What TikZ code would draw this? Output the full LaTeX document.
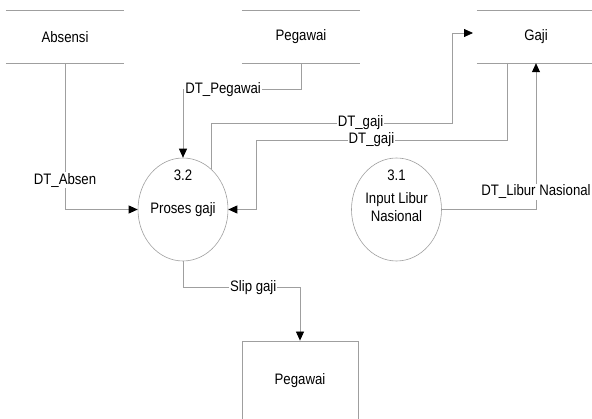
\documentclass[tikz,border=0pt]{standalone}
\usepackage{fontspec}
\usepackage{graphicx}
\setmainfont{Liberation Sans}
\usetikzlibrary{arrows.meta,shapes.geometric}

% labels in the reference are a little taller than wide
\newcommand{\dfd}[1]{\scalebox{1}[1.15]{#1}}

\begin{document}
\begin{tikzpicture}[%
      x=1pt, y=-1pt,
      every node/.style={font=\fontsize{13.2}{15.6}\selectfont, inner sep=1pt},
      store/.style={minimum width=118pt, minimum height=52pt},
      proc/.style={draw=gray!75, ellipse, line width=0.6pt,
                   minimum width=90pt, minimum height=103pt},
      entity/.style={draw=gray!75, line width=0.8pt,
                     minimum width=116pt, minimum height=80pt},
      flow/.style={draw=gray!75, line width=0.8pt,
                   -{Triangle[length=9pt,width=8pt,black]}},
      lbl/.style={fill=white},
      ]
      \useasboundingbox (0,0) rectangle (592,419);

      % data stores
      \node [store] (absensi) at (65,37) {\dfd{Absensi}};
      \node [store] (pegawai) at (301,37) {\dfd{Pegawai}};
      \node [store] (gaji) at (536,37) {\dfd{Gaji}};
      \foreach \s in {absensi,pegawai,gaji} {
        \draw [gray!75, line width=0.8pt] (\s.north west) -- (\s.north east);
        \draw [gray!75, line width=0.8pt] (\s.south west) -- (\s.south east);
      }

      % processes
      \node [proc] (proc32) at (183,209.5) {};
      \node (num32) at (183,175) {\dfd{3.2}};
      \node (name32) at (183,210) {\dfd{Proses gaji}};

      \node [proc] (proc31) at (396.5,209.5) {};
      \node (num31) at (396.5,175) {\dfd{3.1}};
      \node (name31) at (396.5,209) {\dfd{\begin{tabular}{@{}c@{}}Input Libur\\Nasional\end{tabular}}};

      % external entity
      \node [entity] (slip) at (300,381) {\dfd{Pegawai}};

      % flows
      \coordinate (gajiin) at (473,33);
      \coordinate (gajiout) at (507,63);

      \draw [flow] (absensi.south) |- node [lbl, pos=0.40] {\dfd{DT\_Absen}} (proc32.west);
      \draw [flow] (pegawai.south) -- ++(0,26) -| node [lbl, pos=0.33] {\dfd{DT\_Pegawai}} (proc32.north);
      \draw [flow] (proc32.55) |- node [lbl, pos=0.81] {\dfd{DT\_gaji}} (452,123) |- (gajiin);
      \draw [flow] (gajiout) |- node [lbl, pos=0.77] {\dfd{DT\_gaji}} (256,140) |- (proc32.east);
      \draw [flow] (proc31.east) -| node [lbl, pos=0.56] {\dfd{DT\_Libur Nasional}} (gaji.south);
      \draw [flow] (proc32.south) -- ++(0,26) -| node [lbl, pos=0.30] {\dfd{Slip gaji}} (slip.north);
\end{tikzpicture}
\end{document}
